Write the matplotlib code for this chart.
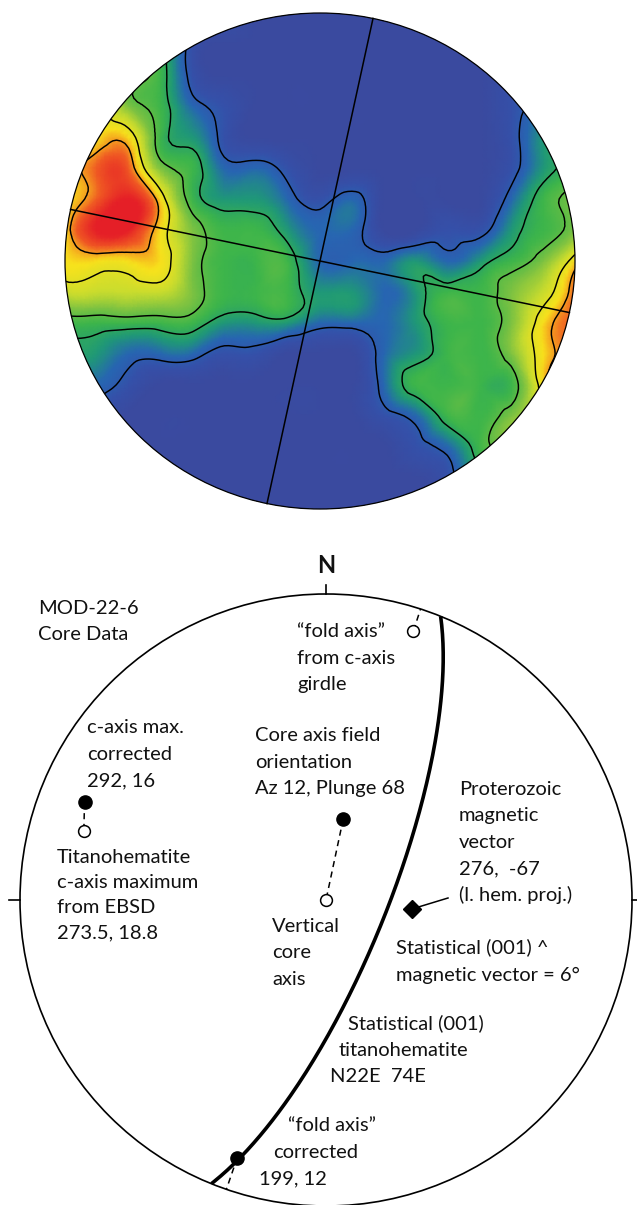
import numpy as np
import matplotlib
matplotlib.use("Agg")
import matplotlib.pyplot as plt
import matplotlib.tri as mtri
from matplotlib.colors import LinearSegmentedColormap
from matplotlib.patches import Circle

plt.rcParams['font.family'] = ['Lato', 'DejaVu Sans']

# ---- top panel: c-axis density (17 x 17 grid, row 0 = top)
DENSITY_ROWS = [
    "77542100000000123",
    "77541000000000123",
    "77541000000000123",
    "77542100000000123",
    "77743100000000134",
    "78854221000000134",
    "78974332120000245",
    "79975443220011345",
    "77775444222323457",
    "66665444332344568",
    "44444333222344578",
    "33222110002344578",
    "22100000002444478",
    "11000000001244567",
    "00000000000124567",
    "00000000000013456",
    "00000000000012345",
]
CONTOUR_LEVELS = [1.5, 3.5, 4.5, 6.5, 7.5]
DENSITY_COLOURS = ['#3a4a9f', '#3550a9', '#2766b2', '#1f9878', '#3db54a',
                   '#7cc242', '#c9dc2e', '#f8e21c', '#f05a23', '#e51f27']
CORE_AZ = 12          # trend of the core reference line

# ---- bottom panel: stereonet data (trend, plunge), lower hemisphere equal area
CORE_AXIS = (12, 68)
VERTICAL_AXIS = (0, 90)
CAXIS_MAX = (292, 16)
CAXIS_EBSD = (286, 18.8)     # position as plotted
FOLD_GIRDLE = (18, 8.3)      # position as plotted
FOLD_CORR = (199, 12)
MAG_VECTOR = (276, -67)      # upper hemisphere, shown on lower
PLANE_001 = (22, 74)         # strike, dip (right hand rule)

TXT = '#111111'
FS = 14.5
CX, CY, R = 326.0, 900.0, 306.0   # stereonet centre / radius in figure pixels


def project(trend, plunge):
    trend = np.asarray(trend, float)
    plunge = np.asarray(plunge, float)
    up = plunge < 0
    trend = np.where(up, trend + 180, trend)
    plunge = np.abs(plunge)
    r = np.sqrt(1 - np.sin(np.radians(plunge)))
    t = np.radians(trend)
    return r * np.sin(t), r * np.cos(t)


def great_circle(strike, dip, n=181):
    s = np.radians(strike)
    dd = np.radians(strike + 90)
    d = np.radians(dip)
    t = np.linspace(0, np.pi, n)
    vx = np.cos(t) * np.sin(s) + np.sin(t) * np.cos(d) * np.sin(dd)
    vy = np.cos(t) * np.cos(s) + np.sin(t) * np.cos(d) * np.cos(dd)
    vz = np.sin(t) * np.sin(d)
    tr = np.degrees(np.arctan2(vx, vy))
    pl = np.degrees(np.arcsin(np.clip(vz, -1, 1)))
    return project(tr, pl)


def px(x, y):
    return (x - CX) / R, (CY - y) / R


def note(ax, lines, xs, y0, step=26.5):
    if np.isscalar(xs):
        xs = [xs] * len(lines)
    for i, (s, x) in enumerate(zip(lines, xs)):
        ax.text(*px(x, y0 + i * step), s, fontsize=FS, color=TXT,
                ha='left', va='baseline')


fig = plt.figure(figsize=(6.37, 12.05), dpi=100)

# ================= pole figure =================
ax1 = fig.add_axes([65 / 637, 1 - 509 / 1205, 510 / 637, 496 / 1205])
Z = np.array([[int(c) for c in row] for row in DENSITY_ROWS], float)[::-1]
g = np.linspace(-1, 1, Z.shape[0])
X, Y = np.meshgrid(g, g)
tri = mtri.Triangulation(X.ravel(), Y.ravel())
interp = mtri.CubicTriInterpolator(tri, Z.ravel(), kind='min_E')
tri_f, z_f = mtri.UniformTriRefiner(tri).refine_field(
    Z.ravel(), triinterpolator=interp, subdiv=3)

cmap = LinearSegmentedColormap.from_list('pf', DENSITY_COLOURS)
rim = Circle((0, 0), 1, transform=ax1.transData)
tp = ax1.tripcolor(tri_f, z_f, shading='gouraud', cmap=cmap, vmin=0, vmax=9)
tp.set_clip_path(rim)
cs = ax1.tricontour(tri_f, z_f, levels=CONTOUR_LEVELS, colors='black',
                    linewidths=1.05)
cs.set_clip_path(rim)
for a in (CORE_AZ, CORE_AZ + 90):
    sx, sy = np.sin(np.radians(a)), np.cos(np.radians(a))
    ax1.plot([-sx, sx], [-sy, sy], color='black', lw=1.1)
ax1.add_patch(Circle((0, 0), 1, fill=False, ec='black', lw=0.9, clip_on=False))
ax1.set_xlim(-1, 1)
ax1.set_ylim(-1, 1)
ax1.axis('off')

# ================= stereonet =================
ax2 = fig.add_axes([(CX - R) / 637, 1 - (CY + R) / 1205, 2 * R / 637, 2 * R / 1205])
ax2.set_xlim(-1, 1)
ax2.set_ylim(-1, 1)
ax2.axis('off')
ax2.add_patch(Circle((0, 0), 1, fill=False, ec='black', lw=1.2, clip_on=False))
ax2.plot([0, 0], [1, 1.03], color='black', lw=1.2, clip_on=False)
ax2.plot([-1.035, -1], [0, 0], color='black', lw=1.2, clip_on=False)
ax2.plot([1, 1.035], [0, 0], color='black', lw=1.2, clip_on=False)
ax2.text(*px(326, 573), 'N', fontsize=17, fontweight='bold', color=TXT,
         ha='center', va='baseline')

gx, gy = great_circle(*PLANE_001)
ax2.plot(gx, gy, color='black', lw=2.6, solid_capstyle='butt')

dash = dict(color='black', lw=1.1, ls=(0, (4, 3)))
for a, b in ((CAXIS_MAX, CAXIS_EBSD), (CORE_AXIS, VERTICAL_AXIS)):
    x, y = project([a[0], b[0]], [a[1], b[1]])
    ax2.plot(x, y, **dash)
for tr, pl in (FOLD_GIRDLE, FOLD_CORR):
    x, y = project([tr, tr], [pl, 0])
    ax2.plot(x, y, **dash)

for p in (CORE_AXIS, CAXIS_MAX, FOLD_CORR):
    ax2.plot(*project(*p), 'o', ms=9.5, mfc='black', mec='black', zorder=5)
for p in (VERTICAL_AXIS, CAXIS_EBSD, FOLD_GIRDLE):
    ax2.plot(*project(*p), 'o', ms=8.5, mfc='white', mec='black', mew=1.1,
             zorder=5)
mx, my = project(*MAG_VECTOR)
lx, ly = px(448, 898)
ax2.plot([mx, lx], [my, ly], color='black', lw=1.1)
ax2.plot(mx, my, 'D', ms=9, mfc='black', mec='black', zorder=5)

note(ax2, ['MOD-22-6', 'Core Data'], 38, 614)
note(ax2, ['\u201cfold axis\u201d', 'from c-axis', 'girdle'], 297, 637)
note(ax2, ['c-axis max.', 'corrected', '292, 16'], 87, 733)
note(ax2, ['Core axis field', 'orientation', 'Az 12, Plunge 68'], 255, 741)
note(ax2, ['Proterozoic', 'magnetic', 'vector', '276,  -67', '(l. hem. proj.)'],
     459, 795)
note(ax2, ['Titanohematite', 'c-axis maximum', 'from EBSD', '273.5, 18.8'],
     57, 863, step=25)
note(ax2, ['Vertical', 'core', 'axis'], 272, 932)
note(ax2, ['Statistical (001) ^', 'magnetic vector = 6\u00b0'], 396, 953, step=28)
note(ax2, ['Statistical (001)', 'titanohematite', 'N22E  74E'],
     [348, 339, 330], 1029)
note(ax2, ['\u201cfold axis\u201d', 'corrected', '199, 12'], [288, 273, 259], 1131)

fig.savefig('out.png', dpi=100)
